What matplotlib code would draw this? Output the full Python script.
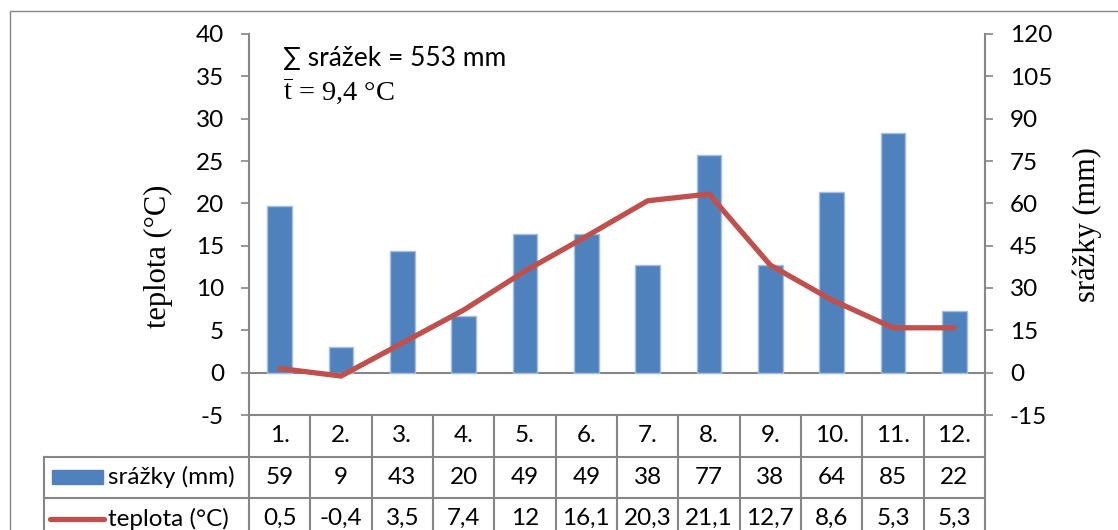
import matplotlib
matplotlib.use("Agg")
import matplotlib.pyplot as plt
from matplotlib import transforms
from matplotlib.lines import Line2D
from matplotlib.patches import Rectangle

# data
months = ["1.", "2.", "3.", "4.", "5.", "6.", "7.", "8.", "9.", "10.", "11.", "12."]
srazky = [59, 9, 43, 20, 49, 49, 38, 77, 38, 64, 85, 22]
teplota = [0.5, -0.4, 3.5, 7.4, 12, 16.1, 20.3, 21.1, 12.7, 8.6, 5.3, 5.3]
teplota_labels = ["0,5", "-0,4", "3,5", "7,4", "12", "16,1", "20,3", "21,1", "12,7", "8,6", "5,3", "5,3"]
left_ticks = list(range(-5, 41, 5))
right_ticks = list(range(-15, 121, 15))

BLUE = "#4F81BD"
RED = "#C0504D"
GRAY = "#868686"
SANS = ["Lato", "DejaVu Sans"]
SERIF = ["Liberation Serif", "DejaVu Serif"]
FS = 17.5

plt.rcParams["mathtext.fontset"] = "custom"
plt.rcParams["mathtext.rm"] = "Liberation Serif"
plt.rcParams["axes.unicode_minus"] = False

W, H = 1118, 530
fig = plt.figure(figsize=(W / 100, H / 100), dpi=100)

# outer chart frame (only top/left visible)
fig.add_artist(Rectangle((10 / W, -0.1), 1.2, 1 - 11 / H + 0.1, transform=fig.transFigure,
                         fill=False, edgecolor=GRAY, linewidth=1))

ax = fig.add_axes([249 / W, 1 - 415 / H, 736 / W, 381 / H])
ax2 = ax.twinx()
ax.set_zorder(2)
ax2.set_zorder(1)
ax.patch.set_visible(False)

x = list(range(len(months)))
ax2.bar(x, srazky, width=0.4, color=BLUE, edgecolor="#A7BFDE", linewidth=1)
ax2.axhline(0, color=GRAY, linewidth=1.5, zorder=0)
ax.plot(x, teplota, color=RED, linewidth=3.8, solid_capstyle="round", solid_joinstyle="round")

ax.set_xlim(-0.5, len(months) - 0.5)
ax.set_ylim(-5, 40)
ax2.set_ylim(-15, 120)
ax.set_yticks(left_ticks)
ax2.set_yticks(right_ticks)
ax.set_xticks([])
for a in (ax, ax2):
    for s in a.spines.values():
        s.set_visible(False)
    a.tick_params(axis="y", length=6, width=1.2, color=GRAY, pad=12, labelsize=FS)
    for lab in a.get_yticklabels():
        lab.set_family(SANS)
ax.spines["left"].set_visible(True)
ax.spines["left"].set_color(GRAY)
ax.spines["left"].set_linewidth(1.5)
ax2.spines["right"].set_visible(True)
ax2.spines["right"].set_color(GRAY)
ax2.spines["right"].set_linewidth(1.5)

fig.text(158 / W, 1 - 256 / H, "teplota (°C)", rotation=90, ha="center", va="center",
         family=SERIF, fontsize=22)
fig.text(1087 / W, 1 - 225 / H, "srážky (mm)", rotation=90, ha="center", va="center",
         family=SERIF, fontsize=22)

ax.text(0.046, 0.935, "∑ srážek = 553 mm", transform=ax.transAxes, ha="left", va="center",
        family=SANS, fontsize=19)
ax.text(0.046, 0.85, r"$\overline{\mathrm{t}}$ = 9,4 °C", transform=ax.transAxes,
        ha="left", va="center", family=SERIF, fontsize=20.5)

# data table below the plot
bt = transforms.blended_transform_factory(ax.transData, ax.transAxes)
r = 41.5 / 381
leg_left = (44 - 249) / 736
lk = dict(color=GRAY, linewidth=1.5, clip_on=False)

ax.add_line(Line2D([-0.5, 11.5], [0, 0], transform=bt, **lk))
for k in (1, 2):
    ax.add_line(Line2D([leg_left, 1], [-k * r, -k * r], transform=ax.transAxes, **lk))
ax.add_line(Line2D([leg_left, leg_left], [-r, -3 * r], transform=ax.transAxes, **lk))
for i in range(len(months) + 1):
    ax.add_line(Line2D([i - 0.5, i - 0.5], [0, -3 * r], transform=bt, **lk))

for i in x:
    ax.text(i, -0.5 * r, months[i], transform=bt, ha="center", va="center", family=SANS, fontsize=FS)
    ax.text(i, -1.5 * r, str(srazky[i]), transform=bt, ha="center", va="center", family=SANS, fontsize=FS)
    ax.text(i, -2.5 * r, teplota_labels[i], transform=bt, ha="center", va="center", family=SANS, fontsize=FS)

# legend keys inside the table
ax.add_patch(Rectangle(((52 - 249) / 736, -1.5 * r - 7 / 381), 51 / 736, 14 / 381,
                       transform=ax.transAxes, color=BLUE, clip_on=False))
ax.add_line(Line2D([(50 - 249) / 736, (104 - 249) / 736], [-2.5 * r, -2.5 * r],
                   transform=ax.transAxes, color=RED, linewidth=3.8,
                   solid_capstyle="round", clip_on=False))
ax.text((108 - 249) / 736, -1.5 * r, "srážky (mm)", transform=ax.transAxes,
        ha="left", va="center", family=SANS, fontsize=FS)
ax.text((108 - 249) / 736, -2.5 * r, "teplota (°C)", transform=ax.transAxes,
        ha="left", va="center", family=SANS, fontsize=FS)

fig.savefig("out.png", dpi=100)
